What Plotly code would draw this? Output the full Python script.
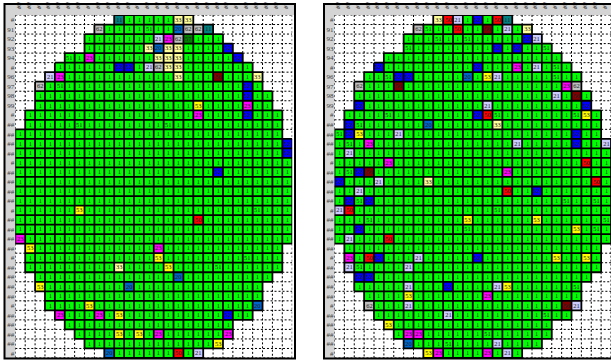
import plotly.graph_objects as go

W, H = 611, 363

# wafer rows (Excel row numbers) and their header labels
rows = list(range(90, 126))
row_labels = ["#", "91", "92", "93", "94", "#", "96", "97", "98", "99",
              "#", "##", "##", "##", "##", "#", "##", "##", "##", "##",
              "#", "##", "##", "##", "##", "#", "##", "##", "##", "##",
              "#", "##", "##", "##", "##", "#"]
col_labels = ["##", "##", "#", "##", "##", "##", "##", "#", "##", "##",
              "##", "##", "#", "##", "##", "##", "##", "#", "##", "##",
              "##", "##", "#", "##", "##", "##", "##", "#"]
ncols = len(col_labels)

# first / last die column on each wafer row
row_first = [10, 8, 7, 7, 5, 4, 3, 2, 2, 2, 1, 1, 0,
             0, 0, 0, 0, 0, 0, 0, 0, 0, 0, 0,
             1, 1, 1, 2, 2, 3, 3, 4, 5, 6, 7, 9]
row_last = [17, 19, 20, 21, 22, 23, 24, 24, 25, 25, 26, 26, 26,
            27, 27, 27, 27, 27, 27, 27, 27, 27, 27, 27,
            26, 26, 26, 25, 24, 24, 24, 23, 21, 21, 20, 18]

GOOD_BIN = 1

# non-good bins per wafer: (row, column, bin)
wafer_a_bins = [
    (90, 10, 11), (90, 16, 33), (90, 17, 33),
    (91, 8, 62), (91, 13, 51), (91, 16, 20), (91, 17, 62), (91, 18, 62), (91, 19, 11),
    (92, 14, 21), (92, 15, 23), (92, 16, 62), (92, 17, 57),
    (93, 13, 33), (93, 14, 20), (93, 15, 33), (93, 16, 33), (93, 21, 52),
    (94, 5, 51), (94, 7, 23), (94, 14, 33), (94, 15, 33), (94, 16, 33), (94, 22, 52),
    (95, 10, 52), (95, 11, 52), (95, 13, 21), (95, 14, 62), (95, 15, 33), (95, 16, 33),
    (96, 3, 21), (96, 4, 23), (96, 16, 33), (96, 20, 56), (96, 24, 33),
    (97, 2, 62), (97, 4, 51), (97, 23, 52),
    (98, 23, 52),
    (99, 18, 53), (99, 23, 23),
    (100, 18, 23), (100, 23, 52),
    (101, 6, 51), (101, 15, 51),
    (103, 27, 52), (104, 27, 52),
    (106, 20, 52),
    (110, 6, 53), (110, 24, 51),
    (111, 18, 50),
    (113, 0, 23),
    (114, 1, 53), (114, 14, 23),
    (115, 14, 53), (115, 23, 51),
    (116, 10, 33), (116, 15, 53), (116, 20, 51),
    (117, 16, 20),
    (118, 2, 53), (118, 11, 20),
    (120, 7, 53), (120, 24, 20),
    (121, 4, 23), (121, 8, 23), (121, 10, 53), (121, 21, 52),
    (123, 10, 53), (123, 12, 53), (123, 14, 23), (123, 21, 23),
    (124, 20, 53),
    (125, 9, 20), (125, 16, 50), (125, 18, 21),
]

wafer_b_bins = [
    (90, 10, 33), (90, 11, 50), (90, 12, 21), (90, 14, 52), (90, 16, 50), (90, 17, 11),
    (91, 8, 62), (91, 9, 51), (91, 12, 50), (91, 15, 56), (91, 17, 21), (91, 19, 33),
    (92, 10, 51), (92, 13, 51), (92, 19, 52), (92, 20, 21),
    (93, 7, 51), (93, 16, 52), (93, 18, 52), (93, 21, 51),
    (95, 4, 52), (95, 14, 52), (95, 18, 23), (95, 20, 21), (95, 22, 51),
    (96, 5, 51), (96, 6, 52), (96, 7, 52), (96, 13, 20), (96, 15, 53), (96, 16, 21), (96, 22, 51),
    (97, 2, 62), (97, 6, 56), (97, 23, 23), (97, 24, 62),
    (98, 22, 21), (98, 24, 56),
    (99, 2, 52), (99, 15, 21), (99, 25, 52),
    (100, 5, 51), (100, 14, 52), (100, 15, 50), (100, 16, 51), (100, 24, 51), (100, 25, 53),
    (101, 1, 52), (101, 2, 51), (101, 9, 20), (101, 16, 33),
    (102, 0, 51), (102, 1, 52), (102, 2, 53), (102, 6, 21), (102, 24, 52),
    (103, 1, 51), (103, 3, 23), (103, 18, 21), (103, 24, 52), (103, 27, 21),
    (104, 1, 21),
    (105, 5, 23), (105, 25, 50),
    (106, 1, 51), (106, 2, 52), (106, 3, 56), (106, 17, 23),
    (107, 0, 52), (107, 4, 21), (107, 9, 33), (107, 26, 50),
    (108, 2, 21), (108, 17, 50), (108, 20, 52),
    (109, 1, 52), (109, 2, 51), (109, 3, 52), (109, 23, 51), (109, 26, 51),
    (110, 0, 21), (110, 1, 50), (110, 16, 51),
    (111, 3, 51), (111, 13, 53), (111, 20, 53), (111, 27, 51),
    (112, 2, 52), (112, 13, 51), (112, 24, 53), (112, 26, 51),
    (113, 1, 21), (113, 5, 50),
    (115, 1, 23), (115, 3, 50), (115, 4, 52), (115, 8, 21), (115, 14, 52), (115, 22, 53), (115, 25, 53),
    (116, 1, 21), (116, 2, 51), (116, 7, 21),
    (117, 2, 52), (117, 3, 52),
    (118, 7, 21), (118, 11, 52), (118, 16, 21), (118, 17, 53), (118, 24, 51),
    (119, 7, 53), (119, 15, 23),
    (120, 3, 62), (120, 7, 21), (120, 23, 56), (120, 24, 21),
    (121, 11, 21), (121, 21, 51),
    (122, 5, 53),
    (123, 7, 23), (123, 8, 23), (123, 15, 51),
    (124, 7, 20), (124, 11, 51), (124, 16, 21),
    (125, 9, 53), (125, 10, 23), (125, 15, 23), (125, 17, 21),
]

# fill colour of each bin
bin_colors = {
    1: "#00FF00", 11: "#008080", 20: "#0066CC", 21: "#CCCCFF", 23: "#FF00FF",
    33: "#FFFF99", 50: "#FF0000", 51: "#00FF00", 52: "#0000FF", 53: "#FFFF00",
    56: "#800000", 57: "#008000", 62: "#C0C0C0",
}
bins = list(bin_colors)
nb = len(bins)
bin_index = {b: i for i, b in enumerate(bins)}
colorscale = []
for i, b in enumerate(bins):
    colorscale.append([i / nb, bin_colors[b]])
    colorscale.append([(i + 1) / nb, bin_colors[b]])


def on_wafer(i, c):
    return 0 <= i < len(rows) and 0 <= c < ncols and row_first[i] <= c <= row_last[i]


def build_grid(bin_list):
    z = [[None] * ncols for _ in rows]
    txt = [[""] * ncols for _ in rows]
    for i in range(len(rows)):
        for c in range(row_first[i], row_last[i] + 1):
            z[i][c] = bin_index[GOOD_BIN]
            txt[i][c] = str(GOOD_BIN)
    for r, c, b in bin_list:
        i = rows.index(r)
        z[i][c] = bin_index[b]
        txt[i][c] = str(b)
    return z, txt


def cell_borders():
    """Solid borders around dies, dotted worksheet grid elsewhere."""
    solid_x, solid_y, dot_x, dot_y = [], [], [], []

    def flush(kind, pts):
        if not pts:
            return
        xs, ys = (solid_x, solid_y) if kind else (dot_x, dot_y)
        xs += [pts[0][0], pts[1][0], None]
        ys += [pts[0][1], pts[1][1], None]

    # vertical boundaries
    for b in range(ncols + 1):
        x = b - 0.5
        run_kind, run = None, None
        for i in range(len(rows)):
            kind = on_wafer(i, b - 1) or on_wafer(i, b)
            y0, y1 = rows[i] - 0.5, rows[i] + 0.5
            if run is not None and kind == run_kind:
                run[1] = (x, y1)
            else:
                flush(run_kind, run)
                run_kind, run = kind, [(x, y0), (x, y1)]
        flush(run_kind, run)
    # horizontal boundaries
    for b in range(len(rows) + 1):
        y = rows[0] - 0.5 + b
        run_kind, run = None, None
        for c in range(ncols):
            kind = on_wafer(b - 1, c) or on_wafer(b, c)
            x0, x1 = c - 0.5, c + 0.5
            if run is not None and kind == run_kind:
                run[1] = (x1, y)
            else:
                flush(run_kind, run)
                run_kind, run = kind, [(x0, y), (x1, y)]
        flush(run_kind, run)
    return solid_x, solid_y, dot_x, dot_y


fig = go.Figure()
sx, sy, dx, dy = cell_borders()
panels = [(wafer_a_bins, "x", "y"), (wafer_b_bins, "x2", "y2")]
for bin_list, xa, ya in panels:
    z, txt = build_grid(bin_list)
    fig.add_trace(go.Heatmap(
        x=list(range(ncols)), y=rows, z=z, text=txt, texttemplate="%{text}",
        textfont=dict(family="Liberation Serif", size=6.5, color="#202020"),
        colorscale=colorscale, zmin=-0.5, zmax=nb - 0.5, showscale=False,
        hoverinfo="skip", xaxis=xa, yaxis=ya,
    ))
    fig.add_trace(go.Scatter(
        x=dx, y=dy, mode="lines", xaxis=xa, yaxis=ya, hoverinfo="skip",
        line=dict(color="#000000", width=1, dash="2px,2px"),
    ))
    fig.add_trace(go.Scatter(
        x=sx, y=sy, mode="lines", xaxis=xa, yaxis=ya, hoverinfo="skip",
        line=dict(color="#000000", width=1.8),
    ))


def px(x):
    return x / W


def py(y):
    return 1 - y / H


grid_top, grid_bottom = 15.0, 358.0
panel_geom = [  # frame left, grid left, grid right, frame right (pixels)
    (4.5, 15.3, 292.2, 295.0),
    (324.0, 334.5, 611.0, 640.0),
]

tick_font = dict(family="Liberation Serif", size=7, color="#3a3a3a")
axis_common = dict(showgrid=False, zeroline=False, showline=False, ticks="",
                   fixedrange=True)
layout_axes = {}
for k, (fl, gl, gr, fr) in enumerate(panel_geom):
    sfx = "" if k == 0 else str(k + 1)
    layout_axes["xaxis" + sfx] = dict(
        axis_common, domain=[px(gl), min(px(gr), 1.0)], range=[-0.5, ncols - 0.5],
        side="top", tickvals=list(range(ncols)), ticktext=col_labels,
        tickfont=dict(tick_font, style="italic", weight="bold"), anchor="y" + sfx,
    )
    layout_axes["yaxis" + sfx] = dict(
        axis_common, domain=[py(grid_bottom), py(grid_top)],
        range=[rows[-1] + 0.5, rows[0] - 0.5], tickvals=rows, ticktext=row_labels,
        tickfont=tick_font, anchor="x" + sfx,
    )

shapes = []
for fl, gl, gr, fr in panel_geom:
    # worksheet header strips
    shapes.append(dict(type="rect", xref="paper", yref="paper", layer="below",
                       x0=px(fl), x1=px(fr), y0=py(grid_top), y1=py(4),
                       fillcolor="#D4D4D4", line=dict(width=0)))
    shapes.append(dict(type="rect", xref="paper", yref="paper", layer="below",
                       x0=px(fl), x1=px(gl), y0=py(grid_bottom), y1=py(4),
                       fillcolor="#D4D4D4", line=dict(width=0)))
    # outer frame
    shapes.append(dict(type="rect", xref="paper", yref="paper", layer="above",
                       x0=px(fl), x1=px(fr), y0=py(grid_bottom + 0.5), y1=py(4),
                       fillcolor="rgba(0,0,0,0)", line=dict(color="#000000", width=2)))

fig.update_layout(
    width=W, height=H, margin=dict(l=0, r=0, t=0, b=0),
    paper_bgcolor="#FFFFFF", plot_bgcolor="#FFFFFF", showlegend=False,
    shapes=shapes, **layout_axes,
)

fig.write_html("out.html")
